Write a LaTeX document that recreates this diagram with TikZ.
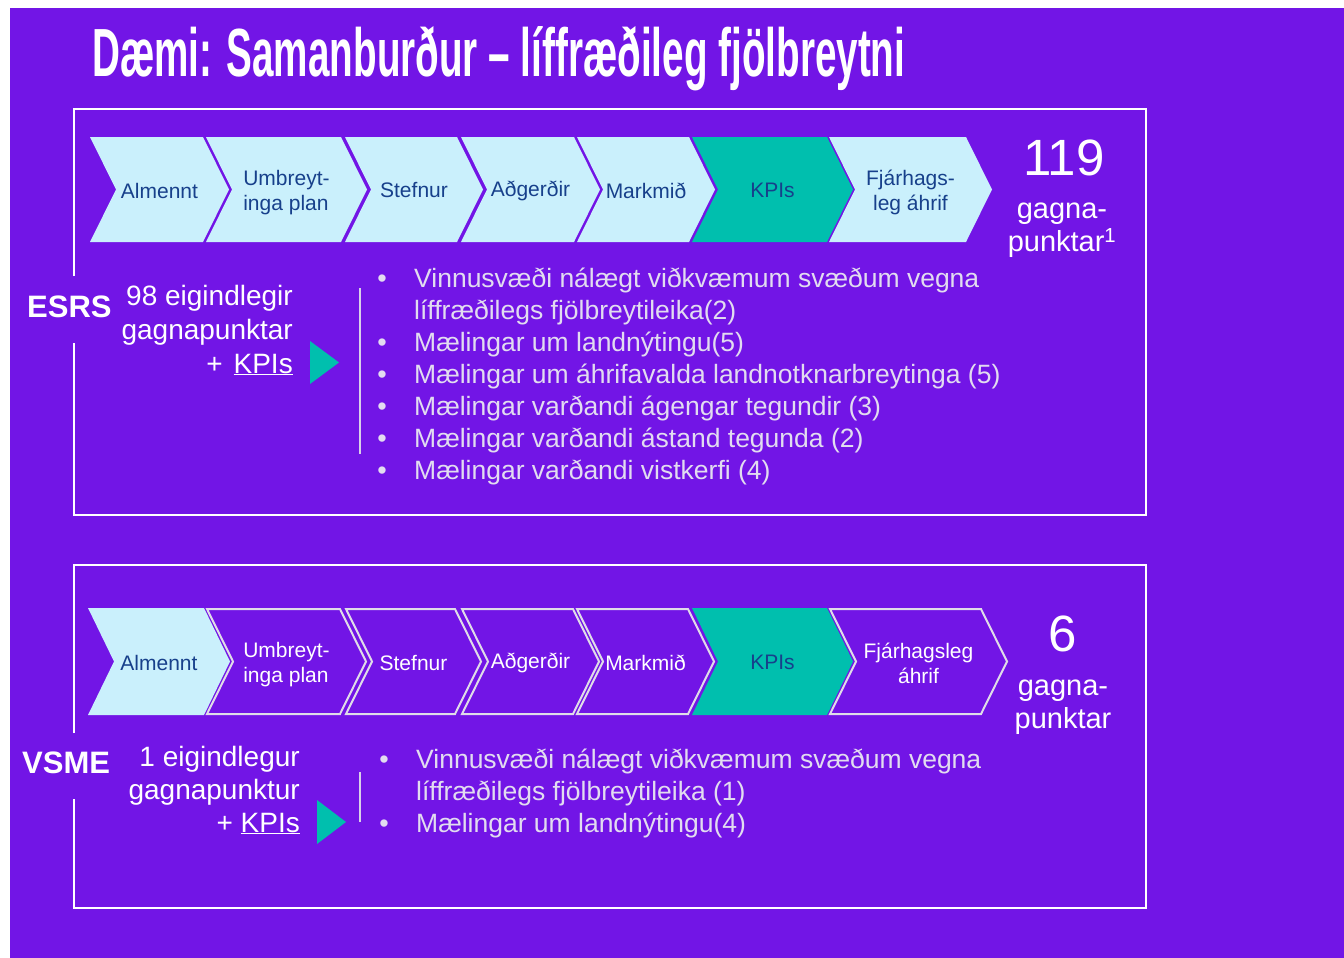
\documentclass[tikz,border=0pt]{standalone}
\usepackage{graphicx}
\usepackage{fontspec}
\setmainfont{Liberation Sans}
\definecolor{bgpurple}{HTML}{7215E6}
\definecolor{chevblue}{HTML}{CAF0FC}
\definecolor{tealc}{HTML}{00BFAE}
\definecolor{navy}{HTML}{17408B}
\definecolor{bullettxt}{HTML}{E2DCF0}
\definecolor{outl}{HTML}{E0DCE8}
\definecolor{vlinec}{HTML}{D8D0E8}
\tikzset{
  boxline/.style={draw=white, line width=2.5pt},
  chevL/.style={fill=chevblue},
  chevT/.style={fill=tealc},
  chevO/.style={fill=bgpurple, draw=outl, line width=2pt},
  ctext/.style={text=navy, font=\fontsize{21}{25}\selectfont, align=center, inner sep=0pt},
  wtext/.style={ctext, text=white},
  btxt/.style={text=bullettxt, font=\fontsize{26.5}{32}\selectfont, inner sep=0pt, anchor=base west},
  bul/.style={text=bullettxt, font=\fontsize{27}{27}\selectfont, inner sep=0pt, anchor=base},
  lbl/.style={text=white, font=\fontsize{28}{34}\selectfont, inner sep=0pt, anchor=base east},
  std/.style={text=white, font=\bfseries\fontsize{31}{31}\selectfont, inner sep=0pt, anchor=west},
  bignum/.style={text=white, font=\fontsize{51}{51}\selectfont, inner sep=0pt},
  gp/.style={text=white, font=\fontsize{29}{33}\selectfont, inner sep=0pt, align=center},
  vline/.style={draw=vlinec, line width=2.5pt},
  tri/.style={fill=tealc}
}
% #1 left x, #2 right x, #3 top y, #4 bottom y, #5 shape style, #6 text style, #7 name, #8 text
\newcommand\mychev[8]{%
  \path[#5] (#1,#3) -- (#2,#3) -- ({#2+26},{(#3+#4)/2}) -- (#2,#4) -- (#1,#4) -- ({#1+26},{(#3+#4)/2}) -- cycle;
  \node[#6] (#7) at ({(#1+26+#2)/2},{(#3+#4)/2+1}) {#8};
}
\begin{document}
\begin{tikzpicture}[x=1pt,y=-1pt]
\useasboundingbox (0,0) rectangle (1344,958);
\fill[white] (0,0) rectangle (1344,958);
\fill[bgpurple] (10,8) rectangle (1344,958);

% title
\node[anchor=base west, text=white, inner sep=0pt] (title) at (92,77)
  {\resizebox{813pt}{50pt}{\bfseries Dæmi: Samanburður – líffræðileg fjölbreytni}};

% frames
\draw[boxline] (74,276) -- (74,109) -- (1146,109) -- (1146,515) -- (74,515) -- (74,343);
\draw[boxline] (74,733) -- (74,565) -- (1146,565) -- (1146,908) -- (74,908) -- (74,799);

% top chevrons
\mychev{90}{203}{137}{242}{chevL}{ctext}{ca1}{Almennt}
\mychev{206}{341}{137}{242}{chevL}{ctext,align=left,yshift=-2pt}{ca2}{Umbreyt-\\inga plan}
\mychev{345}{457}{137}{242}{chevL}{ctext}{ca3}{Stefnur}
\mychev{461}{574}{137}{242}{chevL}{ctext}{ca4}{Aðgerðir}
\mychev{577}{689}{137}{242}{chevL}{ctext}{ca5}{Markmið}
\mychev{692}{827}{137}{242}{chevT}{ctext}{ca6}{KPIs}
\mychev{829}{966}{137}{242}{chevL}{ctext,yshift=-2pt}{ca7}{Fjárhags-\\leg áhrif}

% bottom chevrons
\mychev{88}{204}{608}{715}{chevL}{ctext}{cb1}{Almennt}
\mychev{207}{340}{609}{714}{chevO}{wtext,align=left,yshift=-2pt}{cb2}{Umbreyt-\\inga plan}
\mychev{346}{455}{609}{714}{chevO}{wtext}{cb3}{Stefnur}
\mychev{462}{573}{609}{714}{chevO}{wtext}{cb4}{Aðgerðir}
\mychev{577}{688}{609}{714}{chevO}{wtext}{cb5}{Markmið}
\mychev{692}{827}{608}{715}{chevT}{ctext}{cb6}{KPIs}
\mychev{830}{981}{609}{714}{chevO}{wtext,yshift=-1pt}{cb7}{Fjárhagsleg\\áhrif}

% totals
\node[bignum] (n119) at (1064,158) {119};
\node[gp] (g119) at (1062,230) {gagna-\\punktar\textsuperscript{1}};
\node[bignum] (n6) at (1063,634) {6};
\node[gp] (g6) at (1063,707) {gagna-\\punktar};

% ESRS block
\node[std] (esrs) at (27,307) {ESRS};
\node[lbl] (e1) at (293,305) {98 eigindlegir};
\node[lbl] (e2) at (293,339) {gagnapunktar};
\node[lbl] (e3) at (293,373) {+\hspace{11pt}\underline{KPIs}};
\fill[tri] (310,341) -- (339,362.5) -- (310,384) -- cycle;
\draw[vline] (360,288) -- (360,454);

\node[bul] (u1) at (382,287) {•};
\node[btxt] (t1) at (414,287) {Vinnusvæði nálægt viðkvæmum svæðum vegna};
\node[btxt] (t2) at (414,319) {líffræðilegs fjölbreytileika(2)};
\node[bul] (u3) at (382,351) {•};
\node[btxt] (t3) at (414,351) {Mælingar um landnýtingu(5)};
\node[bul] (u4) at (382,383) {•};
\node[btxt] (t4) at (414,383) {Mælingar um áhrifavalda landnotknarbreytinga (5)};
\node[bul] (u5) at (382,415) {•};
\node[btxt] (t5) at (414,415) {Mælingar varðandi ágengar tegundir (3)};
\node[bul] (u6) at (382,447) {•};
\node[btxt] (t6) at (414,447) {Mælingar varðandi ástand tegunda (2)};
\node[bul] (u7) at (382,479) {•};
\node[btxt] (t7) at (414,479) {Mælingar varðandi vistkerfi (4)};

% VSME block
\node[std] (vsme) at (22,763) {VSME};
\node[lbl] (v1) at (300,766) {1 eigindlegur};
\node[lbl] (v2) at (300,799) {gagnapunktur};
\node[lbl] (v3) at (300,832) {+ \underline{KPIs}};
\fill[tri] (317,800) -- (346,822) -- (317,844) -- cycle;
\draw[vline] (360,772) -- (360,822);

\node[bul] (w1) at (384,768) {•};
\node[btxt] (s1) at (416,768) {Vinnusvæði nálægt viðkvæmum svæðum vegna};
\node[btxt] (s2) at (416,800) {líffræðilegs fjölbreytileika (1)};
\node[bul] (w3) at (384,832) {•};
\node[btxt] (s3) at (416,832) {Mælingar um landnýtingu(4)};
\end{tikzpicture}
\end{document}
